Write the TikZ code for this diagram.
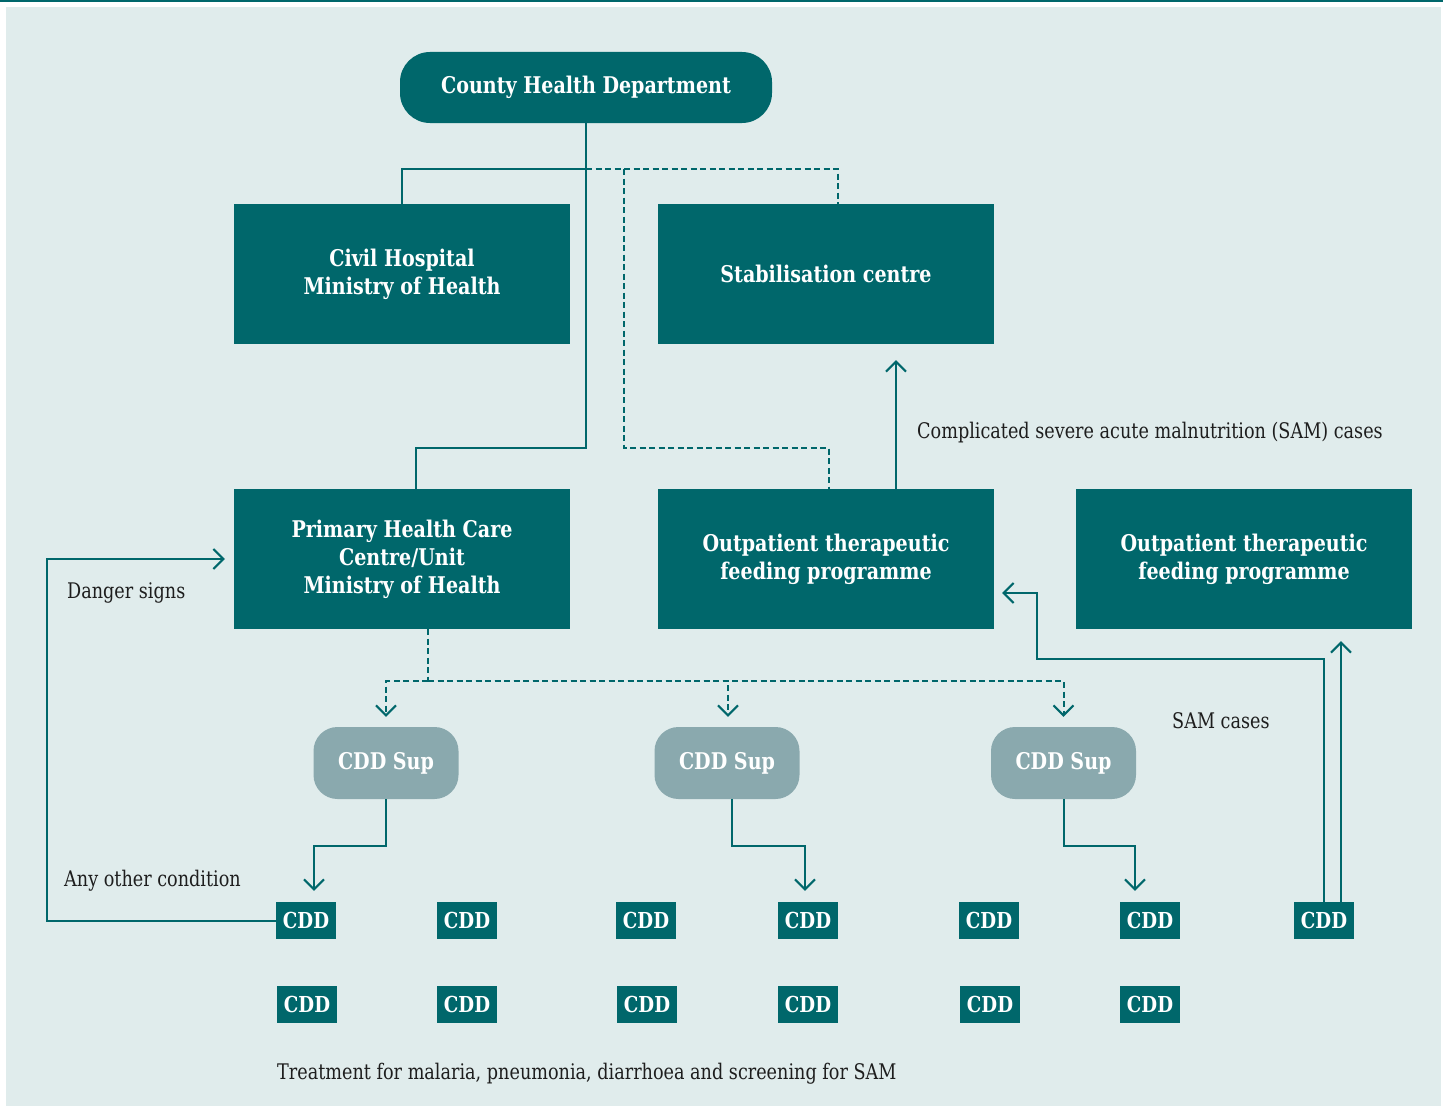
\documentclass[tikz,border=0pt]{standalone}
\usepackage{fontspec}
\setmainfont{DejaVu Serif}[FakeStretch=0.82]
\newfontfamily\boxfont{DejaVu Serif}[FakeStretch=0.83]
\usetikzlibrary{arrows.meta}
\definecolor{tealc}{HTML}{00676B}
\definecolor{bgc}{HTML}{E0ECEC}
\definecolor{supc}{HTML}{8AA9AE}
\definecolor{labc}{HTML}{1E1E1E}
\tikzset{
  box/.style={fill=tealc, text=white, minimum width=336pt, minimum height=140pt, inner sep=0pt, align=center, font=\fontsize{23}{28}\boxfont\bfseries},
  supbox/.style={fill=supc, text=white, rounded corners=24pt, minimum width=145pt, minimum height=72pt, inner sep=0pt, font=\fontsize{23}{28}\boxfont\bfseries},
  cddbox/.style={fill=tealc, text=white, minimum width=60pt, minimum height=37pt, inner sep=0pt, font=\fontsize{22}{24}\boxfont\bfseries},
  conn/.style={draw=tealc, line width=2pt},
  dconn/.style={draw=tealc, line width=2pt, dash pattern=on 6pt off 3.5pt},
  arr/.style={-{Straight Barb[length=10pt, width=20pt, line width=2pt]}},
  lab/.style={text=labc, anchor=west, inner sep=0pt, font=\fontsize{21.5}{24}\selectfont},
}
\begin{document}
\begin{tikzpicture}[x=1pt, y=-1pt]
\useasboundingbox (0,0) rectangle (1443,1108);
\fill[white] (0,0) rectangle (1443,1108);
\fill[bgc] (6,7) rectangle (1441,1106);
\fill[tealc] (0,0) rectangle (1443,2.5);

% main nodes
\node[box, rounded corners=30pt, minimum width=372pt, minimum height=71pt] (chd) at (586,87.5) {County Health Department};
\node[box] (civ) at (402,274) {Civil Hospital\\Ministry of Health};
\node[box] (stab) at (826,274) {Stabilisation centre};
\node[box] (phc) at (402,559) {Primary Health Care\\Centre/Unit\\Ministry of Health};
\node[box] (otp1) at (826,559) {Outpatient therapeutic\\feeding programme};
\node[box] (otp2) at (1244,559) {Outpatient therapeutic\\feeding programme};

\node[supbox] (sup1) at (386,763) {CDD Sup};
\node[supbox] (sup2) at (727,763) {CDD Sup};
\node[supbox] (sup3) at (1063.5,763) {CDD Sup};

% CDD row 1
\node[cddbox] (c11) at (306,920.5) {CDD};
\node[cddbox] (c12) at (467,920.5) {CDD};
\node[cddbox] (c13) at (646,920.5) {CDD};
\node[cddbox] (c14) at (808,920.5) {CDD};
\node[cddbox] (c15) at (989,920.5) {CDD};
\node[cddbox] (c16) at (1150,920.5) {CDD};
\node[cddbox] (c17) at (1324,920.5) {CDD};
% CDD row 2
\node[cddbox] (c21) at (307,1004.5) {CDD};
\node[cddbox] (c22) at (467,1004.5) {CDD};
\node[cddbox] (c23) at (647,1004.5) {CDD};
\node[cddbox] (c24) at (808,1004.5) {CDD};
\node[cddbox] (c25) at (990,1004.5) {CDD};
\node[cddbox] (c26) at (1150,1004.5) {CDD};

% junctions
\coordinate (j1) at (586,169);
\coordinate (j2) at (624,169);
\coordinate (j3) at (428,681);

% solid tree from county
\draw[conn] (chd.south) -- (586,448) -| ([xshift=14pt]phc.north);
\draw[conn] (j1) -| (civ.north);
% dashed links
\draw[dconn] (j1) -| ([xshift=12pt]stab.north);
\draw[dconn] (j2) -- (624,448) -| ([xshift=3pt]otp1.north);
% complicated SAM
\draw[conn, arr, shorten >=16pt] ([xshift=70pt]otp1.north) -- ([xshift=70pt]stab.south);

% PHC to supervisors
\draw[dconn] ([xshift=26pt]phc.south) -- (j3);
\draw[dconn, arr, shorten >=10pt] (j3) -| (sup1.north);
\draw[dconn, arr, shorten >=10pt] (j3) -| ([xshift=1pt]sup2.north);
\draw[dconn, arr, shorten >=10pt] (j3) -| (sup3.north);

% supervisors to CDD
\draw[conn, arr, shorten >=11pt] (sup1.south) -- ++(0,47) -| ([xshift=8pt]c11.north);
\draw[conn, arr, shorten >=11pt] ([xshift=5pt]sup2.south) -- ++(0,47) -| ([xshift=-3pt]c14.north);
\draw[conn, arr, shorten >=11pt] (sup3.south) -- ++(0,47) -| ([xshift=-15pt]c16.north);

% left loop
\draw[conn, arr, shorten >=9pt] (c11.west) -| (47,559) -- (phc.west);

% SAM cases
\draw[conn, arr, shorten >=8pt] (c17.north) -- (1324,659) -| (1037,593) -- ([yshift=-34pt]otp1.east);
\draw[conn, arr, shorten >=12pt] ([xshift=17pt]c17.north) -- ([xshift=97pt]otp2.south);

% labels
\node[lab] (l1) at (917,433) {Complicated severe acute malnutrition (SAM) cases};
\node[lab] (l2) at (1172,721) {SAM cases};
\node[lab] (l3) at (67,593) {Danger signs};
\node[lab] (l4) at (64,881) {Any other condition};
\node[lab] (l5) at (277,1074) {Treatment for malaria, pneumonia, diarrhoea and screening for SAM};
\end{tikzpicture}
\end{document}
